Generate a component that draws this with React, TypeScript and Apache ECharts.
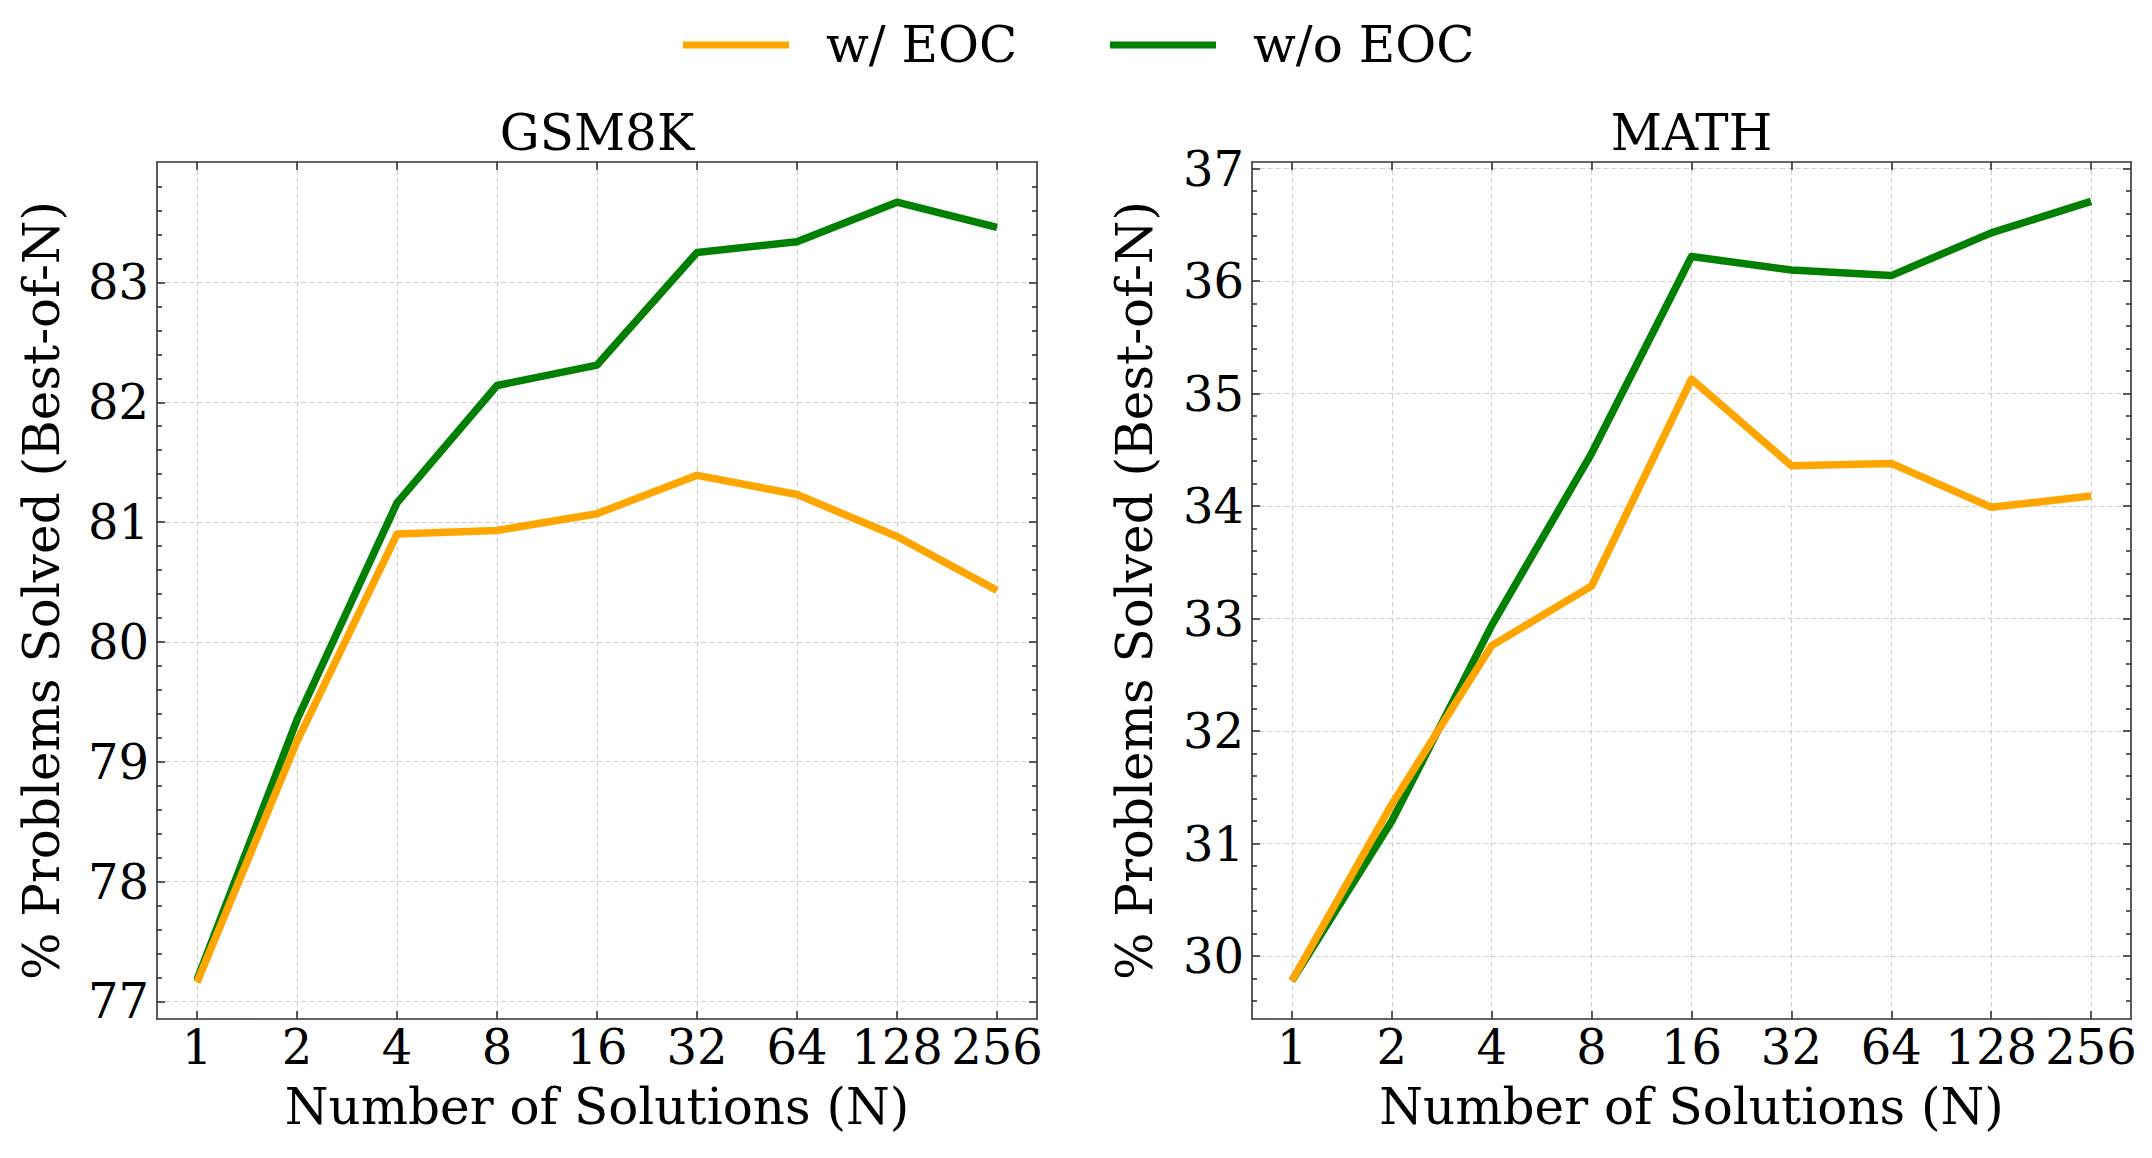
import React, { useEffect, useRef } from "react";
import * as echarts from "echarts";

// ---- data ----
const N_LABELS = ["1", "2", "4", "8", "16", "32", "64", "128", "256"];
const X_INDEX = [0, 1, 2, 3, 4, 5, 6, 7, 8];

const GSM8K_WITH_EOC = [77.16, 79.17, 80.9, 80.93, 81.07, 81.39, 81.23, 80.88, 80.43];
const GSM8K_WITHOUT_EOC = [77.18, 79.35, 81.16, 82.14, 82.31, 83.25, 83.34, 83.67, 83.46];
const MATH_WITH_EOC = [29.78, 31.35, 32.76, 33.29, 35.13, 34.36, 34.38, 33.99, 34.09];
const MATH_WITHOUT_EOC = [29.78, 31.2, 32.94, 34.47, 36.22, 36.1, 36.05, 36.43, 36.71];

const GSM8K_Y_TICKS = [77, 78, 79, 80, 81, 82, 83];
const MATH_Y_TICKS = [30, 31, 32, 33, 34, 35, 36, 37];

const TITLES = ["GSM8K", "MATH"];
const SERIES_NAMES = ["w/ EOC", "w/o EOC"];
const Y_NAME = "% Problems Solved (Best-of-N)";
const X_NAME = "Number of Solutions (N)";

// ---- style ----
const FONT = "DejaVu Serif";
const ORANGE = "#FFA500";
const GREEN = "#008000";
const AXIS_COLOR = "#333333";
const GRID_COLOR = "#cfcfcf";

function minorTicks(majors: number[], lo: number, hi: number): number[] {
  const out: number[] = [];
  const start = majors[0] - 1;
  const end = majors[majors.length - 1] + 1;
  for (let k = Math.round(start * 5); k <= Math.round(end * 5); k++) {
    const v = Math.round(k * 2) / 10;
    if (v >= lo && v <= hi && Math.abs(v - Math.round(v)) > 1e-6) out.push(v);
  }
  return out;
}

const PANELS = [
  { left: 157, width: 880, yMin: 76.853, yMax: 84.005, ticks: GSM8K_Y_TICKS, nameGap: 90 },
  { left: 1252, width: 879, yMin: 29.44, yMax: 37.06, ticks: MATH_Y_TICKS, nameGap: 92 },
];
const TOP = 162;
const HEIGHT = 857;

export default function App() {
  const ref = useRef<HTMLDivElement>(null);

  useEffect(() => {
    document.body.style.margin = "0";
    if (!ref.current) return;
    const chart = echarts.init(ref.current, null, { renderer: "svg" });

    const axisLineStyle = { color: AXIS_COLOR, width: 1.6 };
    const grids: any[] = [];
    const xAxes: any[] = [];
    const yAxes: any[] = [];

    PANELS.forEach((p, g) => {
      grids.push({ left: p.left, top: TOP, width: p.width, height: HEIGHT, outerBoundsMode: "none" });
      // bottom x
      xAxes.push({
        type: "value",
        gridIndex: g,
        position: "bottom",
        min: -0.4,
        max: 8.4,
        axisLine: { show: true, onZero: false, lineStyle: axisLineStyle },
        axisTick: { show: true, inside: true, length: 8, customValues: X_INDEX, lineStyle: axisLineStyle },
        axisLabel: {
          show: true,
          customValues: X_INDEX,
          margin: 4,
          fontSize: 48,
          fontFamily: FONT,
          color: "#000",
          formatter: (v: number) => N_LABELS[Math.round(v)] ?? "",
        },
        splitLine: { show: true, lineStyle: { color: GRID_COLOR, width: 1, type: [5, 3] } },
        name: X_NAME,
        nameLocation: "middle",
        nameGap: 63,
        nameTextStyle: { fontSize: 50, fontFamily: FONT, color: "#000", lineHeight: 50 },
      });
      // top x
      xAxes.push({
        type: "value",
        gridIndex: g,
        position: "top",
        min: -0.4,
        max: 8.4,
        axisLine: { show: true, onZero: false, lineStyle: axisLineStyle },
        axisTick: { show: true, inside: true, length: 8, customValues: X_INDEX, lineStyle: axisLineStyle },
        axisLabel: { show: false },
        splitLine: { show: false },
      });
      const minors = minorTicks(p.ticks, p.yMin, p.yMax);
      // left major y
      yAxes.push({
        type: "value",
        gridIndex: g,
        position: "left",
        min: p.yMin,
        max: p.yMax,
        axisLine: { show: true, onZero: false, lineStyle: axisLineStyle },
        axisTick: { show: true, inside: true, length: 8, customValues: p.ticks, lineStyle: axisLineStyle },
        axisLabel: {
          show: true,
          customValues: p.ticks,
          margin: 8,
          fontSize: 48,
          fontFamily: FONT,
          color: "#000",
        },
        splitLine: { show: true, lineStyle: { color: GRID_COLOR, width: 1, type: [5, 3] } },
        name: Y_NAME,
        nameLocation: "middle",
        nameGap: p.nameGap,
        nameTextStyle: { fontSize: 50, fontFamily: FONT, color: "#000", lineHeight: 50 },
      });
      // left minor y
      yAxes.push({
        type: "value",
        gridIndex: g,
        position: "left",
        min: p.yMin,
        max: p.yMax,
        axisLine: { show: false, onZero: false },
        axisTick: { show: true, inside: true, length: 5, customValues: minors, lineStyle: axisLineStyle },
        axisLabel: { show: false },
        splitLine: { show: false },
      });
      // right major y
      yAxes.push({
        type: "value",
        gridIndex: g,
        position: "right",
        min: p.yMin,
        max: p.yMax,
        axisLine: { show: true, onZero: false, lineStyle: axisLineStyle },
        axisTick: { show: true, inside: true, length: 8, customValues: p.ticks, lineStyle: axisLineStyle },
        axisLabel: { show: false },
        splitLine: { show: false },
      });
      // right minor y
      yAxes.push({
        type: "value",
        gridIndex: g,
        position: "right",
        min: p.yMin,
        max: p.yMax,
        axisLine: { show: false, onZero: false },
        axisTick: { show: true, inside: true, length: 5, customValues: minors, lineStyle: axisLineStyle },
        axisLabel: { show: false },
        splitLine: { show: false },
      });
    });

    const toPoints = (arr: number[]) => X_INDEX.map((x, i) => [x, arr[i]]);
    const mkSeries = (name: string, color: string, arr: number[], g: number) => ({
      type: "line",
      name,
      xAxisIndex: g * 2,
      yAxisIndex: g * 4,
      data: toPoints(arr),
      showSymbol: false,
      symbol: "none",
      itemStyle: { color },
      lineStyle: { color, width: 7.5, join: "round" },
    });

    const series = [
      mkSeries(SERIES_NAMES[1], GREEN, GSM8K_WITHOUT_EOC, 0),
      mkSeries(SERIES_NAMES[0], ORANGE, GSM8K_WITH_EOC, 0),
      mkSeries(SERIES_NAMES[1], GREEN, MATH_WITHOUT_EOC, 1),
      mkSeries(SERIES_NAMES[0], ORANGE, MATH_WITH_EOC, 1),
    ];

    const legendCommon = {
      top: 20,
      padding: 0,
      icon: "rect",
      itemWidth: 106,
      itemHeight: 7,
      selectedMode: false,
      textStyle: { fontSize: 50, fontFamily: FONT, color: "#000", lineHeight: 50, padding: [0, 0, 0, 32] },
    };

    chart.setOption({
      animation: false,
      backgroundColor: "#ffffff",
      legend: [
        { ...legendCommon, left: 683, data: [SERIES_NAMES[0]] },
        { ...legendCommon, left: 1110, data: [SERIES_NAMES[1]] },
      ],
      grid: grids,
      xAxis: xAxes,
      yAxis: yAxes,
      series,
      graphic: PANELS.map((p, g) => ({
        type: "text",
        x: p.left + p.width / 2,
        y: 133,
        style: {
          text: TITLES[g],
          fontSize: 50,
          fontFamily: FONT,
          fill: "#000",
          textAlign: "center",
          textVerticalAlign: "middle",
        },
      })),
    });

    return () => chart.dispose();
  }, []);

  return <div ref={ref} style={{ width: 2152, height: 1158, background: "#fff" }} />;
}
